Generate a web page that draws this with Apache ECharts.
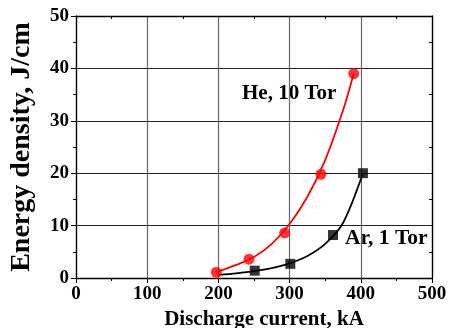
<!DOCTYPE html>
<html><head><meta charset="utf-8">
<script src="https://cdn.jsdelivr.net/npm/echarts@6/dist/echarts.min.js"></script>
<style>html,body{margin:0;padding:0;background:#fff}#c{width:449px;height:328px}</style>
</head><body><div id="c"></div>
<script>
// Measured points
const heX = [197, 243, 293, 344, 390];
const heY = [1.1, 3.6, 8.6, 19.8, 39.0];
const arX = [251, 301, 361, 403];
const arY = [1.4, 2.7, 8.2, 20.0];
// Fitted curves
const heCurveX = [197, 225, 250, 275, 300, 325, 350, 375, 390];
const heCurveY = [1.1, 2.5, 4.0, 6.5, 10.3, 15.5, 22.5, 32.0, 39.0];
const arCurveX = [200, 225, 250, 275, 300, 325, 350, 375, 403];
const arCurveY = [0.6, 0.9, 1.3, 1.9, 2.8, 4.2, 6.5, 10.5, 20.0];
const xTicks = [0, 100, 200, 300, 400, 500];
const yTicks = [0, 10, 20, 30, 40, 50];
const labels = ["He, 10 Tor", "Ar, 1 Tor"];
const xTitle = "Discharge current, kA";
const yTitle = "Energy density, J/cm";

const font = 'Liberation Serif';
const pair = (xs, ys) => xs.map((x, i) => [x, ys[i]]);
const chart = echarts.init(document.getElementById('c'), null, {renderer: 'canvas'});
const axisLine = {show: true, onZero: false, lineStyle: {color: '#000', width: 1.3}};
chart.setOption({
  animation: false,
  grid: {left: 76, right: 17, top: 16, bottom: 50, containLabel: false, outerBoundsMode: 'none'},
  xAxis: [{
    type: 'value', min: xTicks[0], max: xTicks[xTicks.length - 1], interval: 100,
    position: 'bottom', axisLine,
    axisTick: {show: true, length: 5, lineStyle: {color: '#000'}},
    minorTick: {show: true, splitNumber: 2, length: 3, lineStyle: {color: '#000'}},
    axisLabel: {fontFamily: font, fontWeight: 'bold', fontSize: 19, color: '#000', margin: 7},
    splitLine: {show: true, lineStyle: {color: '#666', width: 1.2}},
    name: xTitle, nameLocation: 'middle', nameGap: 31,
    nameTextStyle: {fontFamily: font, fontWeight: 'bold', fontSize: 21, color: '#000', padding: [0, 0, 0, 20]}
  }, {
    type: 'value', min: 0, max: 500, interval: 100, position: 'top', axisLine,
    axisTick: {show: true, inside: true, length: 0},
    minorTick: {show: true, splitNumber: 2, length: 3, lineStyle: {color: '#000'}},
    axisLabel: {show: false}, splitLine: {show: false}
  }],
  yAxis: [{
    type: 'value', min: yTicks[0], max: yTicks[yTicks.length - 1], interval: 10,
    position: 'left', axisLine,
    axisTick: {show: true, length: 5, lineStyle: {color: '#000'}},
    minorTick: {show: true, splitNumber: 2, length: 3, lineStyle: {color: '#000'}},
    axisLabel: {fontFamily: font, fontWeight: 'bold', fontSize: 19, color: '#000', margin: 7},
    splitLine: {show: true, lineStyle: {color: '#222', width: 1.2}},
    name: yTitle, nameLocation: 'middle', nameGap: 40,
    nameTextStyle: {fontFamily: font, fontWeight: 'bold', fontSize: 28, color: '#000'}
  }, {
    type: 'value', min: 0, max: 50, interval: 10, position: 'right', axisLine,
    axisTick: {show: true, inside: true, length: 0},
    minorTick: {show: true, splitNumber: 2, length: 3, lineStyle: {color: '#000'}},
    axisLabel: {show: false}, splitLine: {show: false}
  }],
  series: [
    {type: 'line', smooth: 0.3, showSymbol: false, data: pair(heCurveX, heCurveY),
     lineStyle: {color: '#ff0000', width: 1.8}, z: 3},
    {type: 'line', smooth: 0.3, showSymbol: false, data: pair(arCurveX, arCurveY),
     lineStyle: {color: '#000', width: 1.8}, z: 3},
    {type: 'scatter', data: pair(heX, heY), symbol: 'circle', symbolSize: 11,
     itemStyle: {color: '#ff0000'}, z: 4},
    {type: 'scatter', data: pair(arX, arY), symbol: 'rect', symbolSize: 10,
     itemStyle: {color: '#000'}, z: 4}
  ],
  graphic: [
    {type: 'text', left: 242, top: 83, style: {text: labels[0], font: 'bold 21px "Liberation Serif"', fill: '#000'}},
    {type: 'text', left: 345, top: 227, style: {text: labels[1], font: 'bold 21.5px "Liberation Serif"', fill: '#000'}}
  ]
});
</script></body></html>
